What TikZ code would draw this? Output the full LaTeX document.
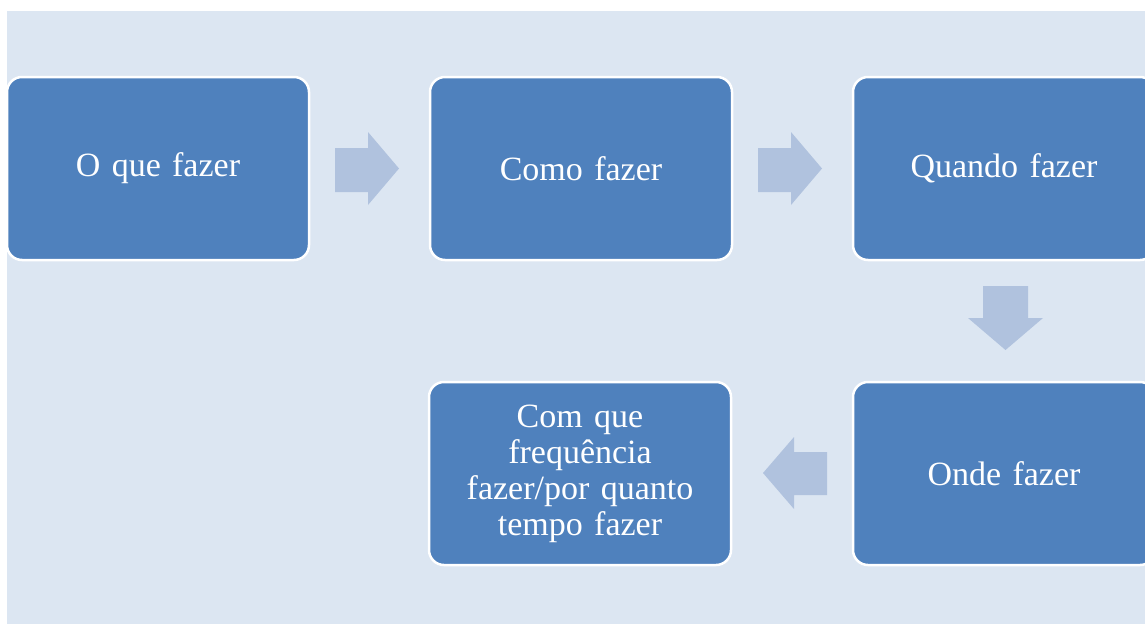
\documentclass[tikz,border=0pt]{standalone}
\usepackage{fontspec}
\setmainfont{Liberation Serif}
\definecolor{bgblue}{RGB}{220,230,242}
\definecolor{boxblue}{RGB}{79,129,189}
\definecolor{arrowblue}{RGB}{176,194,222}
\tikzset{
  stepbox/.style={draw=white, line width=2.5pt, fill=boxblue, rounded corners=15pt,
    minimum width=302pt, minimum height=183pt, text=white, align=center,
    font=\fontsize{34pt}{36pt}\selectfont, inner sep=0pt, text width=260pt},
  blockarrow/.style={fill=arrowblue, draw=none}
}
\begin{document}
\begin{tikzpicture}[x=1pt,y=-1pt]
\useasboundingbox (0,0) rectangle (1145,624);
\clip (0,0) rectangle (1145,624);
\fill[bgblue] (7,11) rectangle (1145,624);
\node[stepbox] (a) at (158,168.5) {O que fazer};
\node[stepbox] (b) at (581,168.5) {Como fazer};
\node[stepbox] (c) at (1004,168.5) {Quando fazer};
\node[stepbox] (d) at (1004,473.5) {Onde fazer};
\node[stepbox] (e) at (580,473.5) {Com que\\frequência\\fazer/por quanto\\tempo fazer};
% block arrows
\fill[blockarrow] (335,148) -- (368,148) -- (368,132) -- (399,168.5) -- (368,205) -- (368,192) -- (335,192) -- cycle;
\fill[blockarrow] (758,148) -- (791,148) -- (791,132) -- (822,168.5) -- (791,205) -- (791,192) -- (758,192) -- cycle;
\fill[blockarrow] (983,286) -- (1028,286) -- (1028,318) -- (1043,318) -- (1005.5,350) -- (968,318) -- (983,318) -- cycle;
\fill[blockarrow] (827,452) -- (794,452) -- (794,437) -- (763,473) -- (794,509) -- (794,495) -- (827,495) -- cycle;
\end{tikzpicture}
\end{document}
